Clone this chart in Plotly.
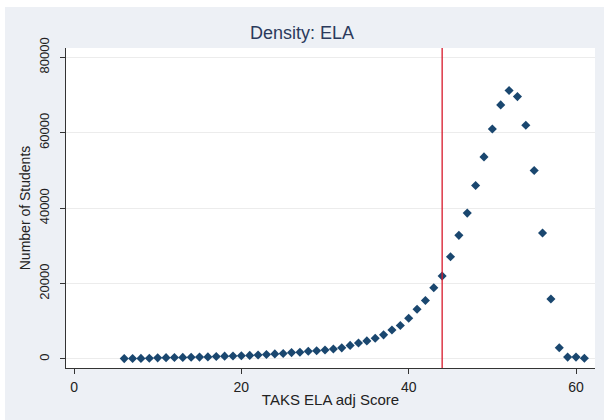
import plotly.graph_objects as go

scores = list(range(6, 62))
students = [100, 120, 150, 200, 300, 350, 400, 420, 450, 500,
            550, 650, 750, 800, 850, 950, 1050, 1200, 1350, 1450,
            1700, 1800, 2050, 2200, 2400, 2650, 2950, 3600, 4250, 4800,
            5500, 6400, 7700, 8900, 10800, 13200, 15500, 18900, 22000, 27100,
            32800, 38700, 46000, 53600, 61000, 67400, 71200, 69600, 62000, 50000,
            33400, 15900, 3000, 500, 500, 200]
cutoff = 44
x_ticks = [0, 20, 40, 60]
y_ticks = [0, 20000, 40000, 60000, 80000]

W, H = 604, 420
L, R, T, B = 66, 9, 48, 52
GRAY = "#EDF0F5"

fig = go.Figure()
fig.add_trace(go.Scatter(
    x=scores, y=students, mode="markers",
    marker=dict(symbol="diamond", size=7, color="#1A476F"),
    showlegend=False, hoverinfo="x+y"))

# background regions (Stata style graph region with thin white outer border)
pw = W - L - R
ph = H - T - B
fig.add_shape(type="rect", xref="paper", yref="paper", layer="below",
              x0=(5 - L) / pw, x1=(W - L) / pw + 0.01,
              y0=-(B) / ph - 0.01, y1=(H - 7 - B) / ph,
              fillcolor=GRAY, line=dict(width=0))
fig.add_shape(type="rect", xref="paper", yref="paper", layer="below",
              x0=0, x1=1, y0=0, y1=1,
              fillcolor="white", line=dict(width=0))
fig.add_shape(type="line", xref="x", yref="paper", x0=cutoff, x1=cutoff,
              y0=0, y1=1, line=dict(color="#D7182A", width=1.3))

fig.update_layout(
    width=W, height=H,
    margin=dict(l=L, r=R, t=T, b=B, autoexpand=False),
    paper_bgcolor="white", plot_bgcolor="rgba(0,0,0,0)",
    font=dict(family="Liberation Sans, Arial, sans-serif", size=13, color="#222222"),
    title=dict(text="Density: ELA", x=0.5, xanchor="center", y=1 - 33 / H, yanchor="middle",
               font=dict(size=18, color="#2B3A5C")),
)
fig.update_xaxes(
    range=[-0.96, 62.27], tickvals=x_ticks, showgrid=False, zeroline=False,
    showline=True, linecolor="#333333", linewidth=1, automargin=False,
    ticks="outside", ticklen=5, tickcolor="#333333", ticklabelstandoff=1,
    tickfont=dict(size=14),
    title=dict(text="TAKS ELA adj Score", standoff=0, font=dict(size=15)),
)
fig.update_yaxes(
    range=[-2390, 82490], tickvals=y_ticks, tickformat="d", showgrid=True, gridcolor="#ECECEC",
    zeroline=False, showline=True, linecolor="#333333", linewidth=1, automargin=False,
    ticks="outside", ticklen=5, tickcolor="#333333", tickangle=-90, ticklabelstandoff=6,
    tickfont=dict(size=13),
    title=dict(text="Number of Students", standoff=2, font=dict(size=14)),
)

fig.write_html("out.html", post_script="document.body.style.margin='0';",
               config={"displayModeBar": False})
